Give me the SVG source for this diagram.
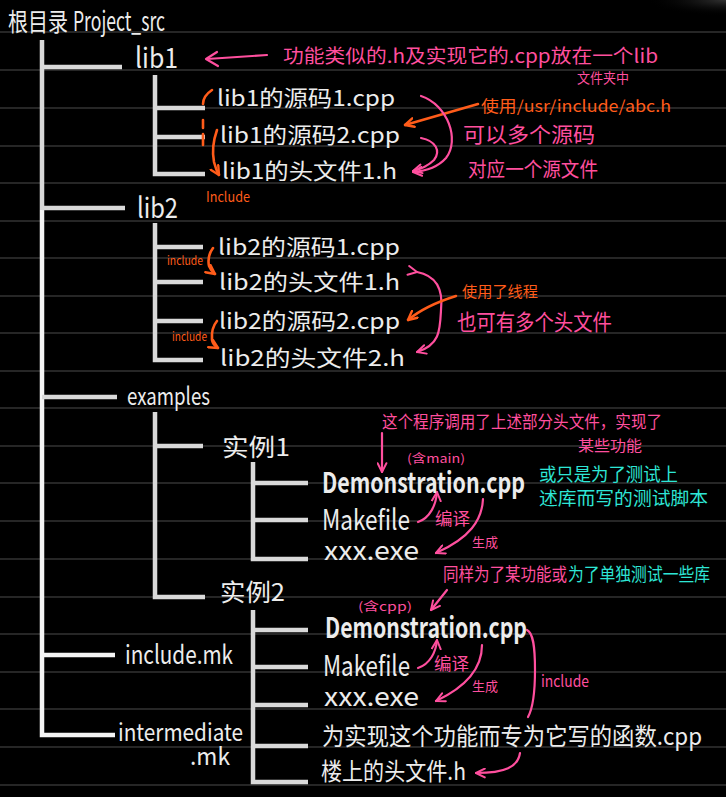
<svg xmlns="http://www.w3.org/2000/svg" width="726" height="797" viewBox="0 0 726 797">
<defs>
<style>
.rule{stroke:#262626;stroke-width:2}
.tree{stroke:#d9d9d9;stroke-width:4.5;fill:none;stroke-linecap:butt}
.treew{stroke:#f4f4f4;stroke-width:4.5;fill:none}
.t{font-family:"Noto Sans CJK SC","Liberation Sans",sans-serif;fill:#ececec}
.pk{font-family:"Noto Sans CJK SC","Liberation Sans",sans-serif;fill:#ff4f9e}
.or{font-family:"Noto Sans CJK SC","Liberation Sans",sans-serif;fill:#ff5c1a}
.cy{font-family:"Noto Sans CJK SC","Liberation Sans",sans-serif;fill:#2ee6d6}
.lp{stroke:#ff4f9e;stroke-width:2.2;fill:none;stroke-linecap:round}
.lo{stroke:#ff5c1a;stroke-width:2.6;fill:none;stroke-linecap:round}
</style>
<marker id="ap" viewBox="0 0 10 10" refX="9" refY="5" markerWidth="11" markerHeight="11" markerUnits="userSpaceOnUse" orient="auto"><path d="M1,1 L9,5 L1,9" fill="none" stroke="#ff4f9e" stroke-width="1.8" stroke-linecap="round" stroke-linejoin="round"/></marker>
<marker id="ao" viewBox="0 0 10 10" refX="9" refY="5" markerWidth="11" markerHeight="11" markerUnits="userSpaceOnUse" orient="auto"><path d="M1,1 L9,5 L1,9" fill="none" stroke="#ff5c1a" stroke-width="2.2" stroke-linecap="round" stroke-linejoin="round"/></marker>
<radialGradient id="glow" cx="1" cy="0" r="1"><stop offset="0" stop-color="#555" stop-opacity="0.6"/><stop offset="1" stop-color="#000" stop-opacity="0"/></radialGradient>
</defs>
<rect width="726" height="797" fill="#000"/>
<rect x="646" y="0" width="80" height="16" fill="url(#glow)"/>
<g id="rules">
<line class="rule" x1="0" y1="32" x2="726" y2="32"/><line class="rule" x1="0" y1="70" x2="726" y2="70"/>
<line class="rule" x1="0" y1="108" x2="726" y2="108"/><line class="rule" x1="0" y1="146" x2="726" y2="146"/>
<line class="rule" x1="0" y1="183" x2="726" y2="183"/><line class="rule" x1="0" y1="221" x2="726" y2="221"/>
<line class="rule" x1="0" y1="258" x2="726" y2="258"/><line class="rule" x1="0" y1="296" x2="726" y2="296"/>
<line class="rule" x1="0" y1="333" x2="726" y2="333"/><line class="rule" x1="0" y1="371" x2="726" y2="371"/>
<line class="rule" x1="0" y1="408" x2="726" y2="408"/><line class="rule" x1="0" y1="446" x2="726" y2="446"/>
<line class="rule" x1="0" y1="483" x2="726" y2="483"/><line class="rule" x1="0" y1="521" x2="726" y2="521"/>
<line class="rule" x1="0" y1="559" x2="726" y2="559"/><line class="rule" x1="0" y1="597" x2="726" y2="597"/>
<line class="rule" x1="0" y1="634" x2="726" y2="634"/><line class="rule" x1="0" y1="672" x2="726" y2="672"/>
<line class="rule" x1="0" y1="709" x2="726" y2="709"/><line class="rule" x1="0" y1="747" x2="726" y2="747"/>
<line class="rule" x1="0" y1="785" x2="726" y2="785"/>
</g>
<g id="connectors">
<path class="tree" d="M42,40 V210"/>
<path class="treew" d="M42,210 V735 H115"/>
<path class="tree" d="M42,67 H122 M42,208 H125 M42,397 H117"/>
<path class="treew" d="M42,655 H115"/>
<path class="tree" d="M155,75 V174 H205 M155,108 H205 M155,137 H205"/>
<path class="tree" d="M155,223 V360 H203 M155,247 H203 M155,282 H203 M155,321 H203"/>
<path class="tree" d="M155,412 V597 H205 M155,446 H203"/>
<path class="tree" d="M253,462 V559 H308 M253,483 H308 M253,520 H308"/>
<path class="tree" d="M253,610 V782 H308 M253,630 H308 M253,667 H308 M253,705 H308 M253,746 H308"/>
<path class="lp" d="M267,55 L207,59"/>
<path class="lp" d="M217,52 L206,59 L218,66" stroke-linejoin="round"/>
<path class="lo" d="M212,90 Q203,96 203,104 M203,120 V128 M203,134 V145"/>
<path class="lo" d="M217,130 Q211,147 214,162 Q216,170 219,175" marker-end="url(#ao)"/>
<path class="lo" d="M478,104 L405,125" marker-end="url(#ao)"/>
<path class="lp" d="M421,96 C448,105 460,140 446,158 C438,167 426,171 413,172" marker-end="url(#ap)"/>
<path class="lp" d="M421,138 C436,141 441,151 434,160 C428,166 421,169 413,171" marker-end="url(#ap)"/>
<path class="lo" d="M213,248 Q207,256 209,266 Q211,271 215,274" marker-end="url(#ao)"/>
<path class="lo" d="M217,321 Q211,328 212,340 Q213,345 218,348" marker-end="url(#ao)"/>
<path class="lp" d="M417,272 C438,276 443,292 441,310 C440,330 440,345 417,352" marker-start="url(#ap)" marker-end="url(#ap)"/>
<path class="lo" d="M456,296 C440,301 420,310 408,320" marker-end="url(#ao)"/>
<path class="lp" d="M382,433 V472" marker-end="url(#ap)"/>
<path class="lp" d="M418,522 C430,518 436,505 437,492" marker-end="url(#ap)"/>
<path class="lp" d="M483,499 C482,520 470,538 436,553" marker-end="url(#ap)"/>
<path class="lp" d="M447,590 L431,610" marker-end="url(#ap)"/>
<path class="lp" d="M418,668 C430,664 436,652 437,640" marker-end="url(#ap)"/>
<path class="lp" d="M482,645 C482,665 470,685 436,701" marker-end="url(#ap)"/>
<path class="lp" d="M527,630 C533,633 535,645 535,670 C535,695 533,708 528,717"/>
<path class="lp" d="M520,753 C518,767 505,773 476,773" marker-end="url(#ap)"/>
</g>
<g id="root"><text class="t" x="8" y="31" font-size="25"><tspan textLength="60" lengthAdjust="spacingAndGlyphs">根目录</tspan><tspan x="73" font-size="27" textLength="92" lengthAdjust="spacingAndGlyphs">Project_src</tspan></text></g>
<g id="lib1"><text class="t" x="135" y="68" font-size="28" textLength="43" lengthAdjust="spacingAndGlyphs">lib1</text></g>
<g id="lib1_src1"><text class="t" x="217" y="106" font-size="22" textLength="178" lengthAdjust="spacingAndGlyphs">lib1的源码1.cpp</text></g>
<g id="lib1_src2"><text class="t" x="220" y="143" font-size="22" textLength="180" lengthAdjust="spacingAndGlyphs">lib1的源码2.cpp</text></g>
<g id="lib1_h1"><text class="t" x="222" y="179" font-size="22" textLength="175" lengthAdjust="spacingAndGlyphs">lib1的头文件1.h</text></g>
<g id="lib2"><text class="t" x="137" y="218" font-size="28" textLength="41" lengthAdjust="spacingAndGlyphs">lib2</text></g>
<g id="lib2_src1"><text class="t" x="218" y="255" font-size="22" textLength="182" lengthAdjust="spacingAndGlyphs">lib2的源码1.cpp</text></g>
<g id="lib2_h1"><text class="t" x="219" y="290" font-size="22" textLength="181" lengthAdjust="spacingAndGlyphs">lib2的头文件1.h</text></g>
<g id="lib2_src2"><text class="t" x="219" y="329" font-size="22" textLength="181" lengthAdjust="spacingAndGlyphs">lib2的源码2.cpp</text></g>
<g id="lib2_h2"><text class="t" x="220" y="366" font-size="22" textLength="185" lengthAdjust="spacingAndGlyphs">lib2的头文件2.h</text></g>
<g id="examples"><text class="t" x="127" y="405" font-size="24" textLength="83" lengthAdjust="spacingAndGlyphs">examples</text></g>
<g id="ex1"><text class="t" x="222" y="456" font-size="24" textLength="68" lengthAdjust="spacingAndGlyphs">实例1</text></g>
<g id="ex1_demo"><text class="t" x="322" y="493" font-size="28" font-weight="bold" fill="#fff" textLength="203" lengthAdjust="spacingAndGlyphs">Demonstration.cpp</text></g>
<g id="ex1_make"><text class="t" x="322" y="530" font-size="28" textLength="88" lengthAdjust="spacingAndGlyphs">Makefile</text></g>
<g id="ex1_exe"><text class="t" x="324" y="560" font-size="26" textLength="95" lengthAdjust="spacingAndGlyphs">xxx.exe</text></g>
<g id="ex2"><text class="t" x="220" y="601" font-size="24" textLength="65" lengthAdjust="spacingAndGlyphs">实例2</text></g>
<g id="ex2_demo"><text class="t" x="325" y="638" font-size="28" font-weight="bold" fill="#fff" textLength="202" lengthAdjust="spacingAndGlyphs">Demonstration.cpp</text></g>
<g id="ex2_make"><text class="t" x="323" y="676" font-size="28" textLength="87" lengthAdjust="spacingAndGlyphs">Makefile</text></g>
<g id="ex2_exe"><text class="t" x="324" y="706" font-size="26" textLength="95" lengthAdjust="spacingAndGlyphs">xxx.exe</text></g>
<g id="ex2_func"><text class="t" x="322" y="745" font-size="24" textLength="380" lengthAdjust="spacingAndGlyphs">为实现这个功能而专为它写的函数.cpp</text></g>
<g id="ex2_h"><text class="t" x="321" y="780" font-size="24" textLength="145" lengthAdjust="spacingAndGlyphs">楼上的头文件.h</text></g>
<g id="include_mk"><text class="t" x="125" y="664" font-size="26" fill="#fff" textLength="108" lengthAdjust="spacingAndGlyphs">include.mk</text></g>
<g id="intermediate_mk"><text class="t" x="118" y="741" font-size="24" fill="#fff" textLength="125" lengthAdjust="spacingAndGlyphs">intermediate</text><text class="t" x="190" y="765" font-size="24" fill="#fff" textLength="40" lengthAdjust="spacingAndGlyphs">.mk</text></g>
<g id="notes">
<text class="pk" x="283" y="63" font-size="19" textLength="375" lengthAdjust="spacingAndGlyphs">功能类似的.h及实现它的.cpp放在一个lib</text>
<text class="pk" x="577" y="83" font-size="14" textLength="52" lengthAdjust="spacingAndGlyphs">文件夹中</text>
<text class="or" x="481" y="112" font-size="16" textLength="190" lengthAdjust="spacingAndGlyphs">使用/usr/include/abc.h</text>
<text class="pk" x="463" y="142" font-size="21" textLength="132" lengthAdjust="spacingAndGlyphs">可以多个源码</text>
<text class="pk" x="468" y="177" font-size="20" textLength="130" lengthAdjust="spacingAndGlyphs">对应一个源文件</text>
<text class="or" x="206" y="202" font-size="14" textLength="44" lengthAdjust="spacingAndGlyphs">Include</text>
<text class="or" x="167" y="265" font-size="12" textLength="36" lengthAdjust="spacingAndGlyphs">include</text>
<text class="or" x="172" y="341" font-size="12" textLength="35" lengthAdjust="spacingAndGlyphs">include</text>
<text class="or" x="462" y="297" font-size="15" textLength="76" lengthAdjust="spacingAndGlyphs">使用了线程</text>
<text class="pk" x="457" y="330" font-size="22" textLength="155" lengthAdjust="spacingAndGlyphs">也可有多个头文件</text>
<text class="pk" x="382" y="428" font-size="17" textLength="280" lengthAdjust="spacingAndGlyphs">这个程序调用了上述部分头文件，实现了</text>
<text class="pk" x="578" y="451" font-size="15" textLength="64" lengthAdjust="spacingAndGlyphs">某些功能</text>
<text class="pk" x="407" y="463" font-size="12" textLength="58" lengthAdjust="spacingAndGlyphs">(含main)</text>
<text class="cy" x="539" y="481" font-size="18" textLength="139" lengthAdjust="spacingAndGlyphs">或只是为了测试上</text>
<text class="cy" x="539" y="505" font-size="18" textLength="169" lengthAdjust="spacingAndGlyphs">述库而写的测试脚本</text>
<text class="pk" x="435" y="525" font-size="17" textLength="35" lengthAdjust="spacingAndGlyphs">编译</text>
<text class="pk" x="472" y="547" font-size="13" textLength="26" lengthAdjust="spacingAndGlyphs">生成</text>
<text class="pk" x="443" y="581" font-size="18" textLength="124" lengthAdjust="spacingAndGlyphs">同样为了某功能或</text>
<text class="cy" x="568" y="581" font-size="18" textLength="142" lengthAdjust="spacingAndGlyphs">为了单独测试一些库</text>
<text class="pk" x="358" y="611" font-size="12" textLength="54" lengthAdjust="spacingAndGlyphs">(含cpp)</text>
<text class="pk" x="434" y="670" font-size="17" textLength="35" lengthAdjust="spacingAndGlyphs">编译</text>
<text class="pk" x="472" y="691" font-size="13" textLength="26" lengthAdjust="spacingAndGlyphs">生成</text>
<text class="pk" x="541" y="687" font-size="16" textLength="48" lengthAdjust="spacingAndGlyphs">include</text>
</g>
</svg>
